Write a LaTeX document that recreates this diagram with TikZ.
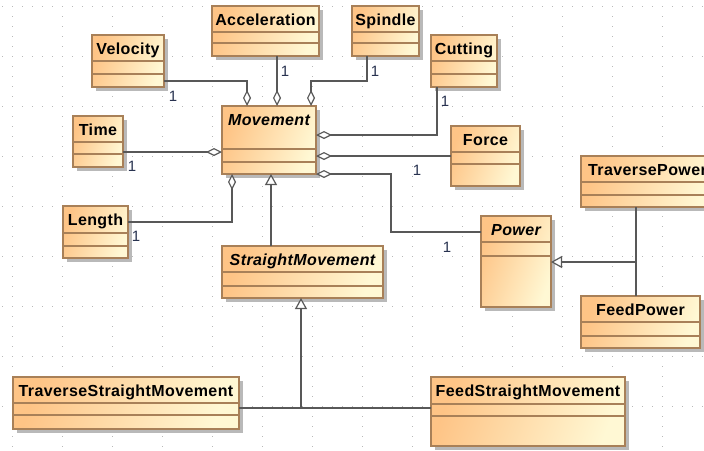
\documentclass[tikz,border=0pt]{standalone}
\usepackage{fontspec}
\setmainfont{Liberation Sans}
\newfontfamily\clsfont[LetterSpace=2.5]{Liberation Sans}
\usetikzlibrary{arrows.meta,calc}
\definecolor{clsA}{RGB}{254,196,134}
\definecolor{clsB}{RGB}{255,248,212}
\definecolor{clsBorder}{RGB}{168,128,88}
\definecolor{lineC}{RGB}{88,88,88}
\definecolor{multC}{RGB}{40,50,80}
\definecolor{gridC}{RGB}{185,185,185}
\definecolor{shadowC}{RGB}{185,185,185}
\tikzset{
  clsbox/.style={draw=clsBorder, line width=1.2pt, shade, shading=axis,
    top color=clsA, bottom color=clsB, shading angle=70, inner sep=0pt, outer sep=0pt},
  clsline/.style={draw=clsBorder, line width=1.2pt},
  cname/.style={font=\clsfont\fontsize{16}{19}\selectfont\bfseries, inner sep=0pt, anchor=base},
  cabs/.style={font=\clsfont\fontsize{16}{19}\selectfont\bfseries\itshape, inner sep=0pt, anchor=base},
  conn/.style={draw=lineC, line width=1.4pt},
  agg/.style={conn, -{Diamond[length=16pt, width=8pt, fill=white, line width=1.2pt]}},
  gen/.style={conn, -{Triangle[length=11pt, width=12pt, fill=white, line width=1.2pt]}},
  mult/.style={font=\fontsize{15}{18}\selectfont, text=multC, inner sep=0pt},
  griddot/.style={draw=gridC, line width=1pt, dash pattern=on 1pt off 9pt},
}
% #1 name, #2 x1, #3 y1, #4 x2, #5 y2, #6 divider1, #7 divider2, #8 text, #9 text style
\newcommand\umlcls[9]{%
  \fill[shadowC] ({#2+4},{#3+4}) rectangle ({#4+4},{#5+4});
  \node[clsbox, minimum width={(#4-#2)*1pt}, minimum height={(#5-#3)*1pt}] (#1) at ({(#2+#4)/2},{(#3+#5)/2}) {};
  \draw[clsline] (#2,#6) -- (#4,#6);
  \draw[clsline] (#2,#7) -- (#4,#7);
  \node[#9] (#1-t) at ({(#2+#4)/2},{#3+19}) {#8};
}
\begin{document}
\begin{tikzpicture}[x=1pt, y=-1pt]
\useasboundingbox (0,0) rectangle (704,450);
\fill[white] (0,0) rectangle (704,450);
% background grid
\foreach \gx in {12.7,62.7,...,712.7}
  \draw[griddot] (\gx,-3.8) -- (\gx,455);
\foreach \gy in {6.7,56.7,...,456.7}
  \draw[griddot] (2.2,\gy) -- (710,\gy);
% classes
\umlcls{vel}{92}{35}{164}{87}{61}{74}{Velocity}{cname}
\umlcls{acc}{212}{6}{319}{56}{32}{43}{Acceleration}{cname}
\umlcls{spi}{352}{6}{419}{56}{32}{43}{Spindle}{cname}
\umlcls{cut}{431}{35}{497}{87}{61}{74}{Cutting}{cname}
\umlcls{tim}{73}{116}{123}{167}{142}{154}{Time}{cname}
\umlcls{mov}{222}{106}{316}{174}{149}{162}{Movement}{cabs}
\umlcls{frc}{451}{126}{520}{186}{152}{164}{Force}{cname}
\umlcls{tpw}{581}{156}{714}{207}{182}{195}{TraversePower}{cname}
\umlcls{len}{63}{206}{128}{258}{233}{246}{Length}{cname}
\umlcls{pow}{481}{216}{551}{307}{242}{256}{Power}{cabs}
\umlcls{stm}{222}{246}{383}{298}{272}{286}{StraightMovement}{cabs}
\umlcls{fpw}{581}{296}{700}{348}{322}{336}{FeedPower}{cname}
\umlcls{tsm}{13}{377}{239}{429}{403}{415}{TraverseStraightMovement}{cname}
\umlcls{fsm}{431}{377}{625}{446}{404}{416}{FeedStraightMovement}{cname}
% aggregations
\draw[agg] ($(vel.east)+(0,20)$) -| ($(mov.north)+(-22,0)$);
\draw[agg] ($(acc.south)+(11.5,0)$) -- ($(mov.north)+(8,0)$);
\draw[agg] ($(spi.south)+(-18.5,0)$) |- ($(mov.north)+(42,-25)$) -- ($(mov.north)+(42,0)$);
\draw[agg] ($(cut.south)+(-27,0)$) |- ($(mov.east)+(0,-5)$);
\draw[agg] (frc.west) -- ($(mov.east)+(0,16)$);
\draw[agg] ($(pow.west)+(0,-29.5)$) -| ($(mov.south east)+(75,0)$) -- (mov.south east);
\draw[agg] ($(tim.east)+(0,10.5)$) -- ($(mov.west)+(0,12)$);
\draw[agg] ($(len.east)+(0,-10)$) -| ($(mov.south)+(-37,0)$);
% generalizations
\draw[gen] ($(stm.north)+(-31.5,0)$) -- ($(mov.south)+(2,0)$);
\coordinate (j1) at (301,408);
\draw[conn] ($(tsm.east)+(0,5)$) -- ($(fsm.west)+(0,-3.5)$);
\draw[gen] (j1) -- ($(stm.south)+(-1.5,0)$);
\coordinate (j2) at (636,262);
\draw[conn] ($(tpw.south)+(-11.5,0)$) -- ($(fpw.north)+(-4.5,0)$);
\draw[gen] (j2) -- ($(pow.east)+(0,0.5)$);
% multiplicities
\node[mult] (m1) at (173,96) {1};
\node[mult] (m2) at (285,71) {1};
\node[mult] (m3) at (375,71) {1};
\node[mult] (m4) at (445,101) {1};
\node[mult] (m5) at (417,170) {1};
\node[mult] (m6) at (447,247) {1};
\node[mult] (m7) at (132,166) {1};
\node[mult] (m8) at (136,236) {1};
\end{tikzpicture}
\end{document}
